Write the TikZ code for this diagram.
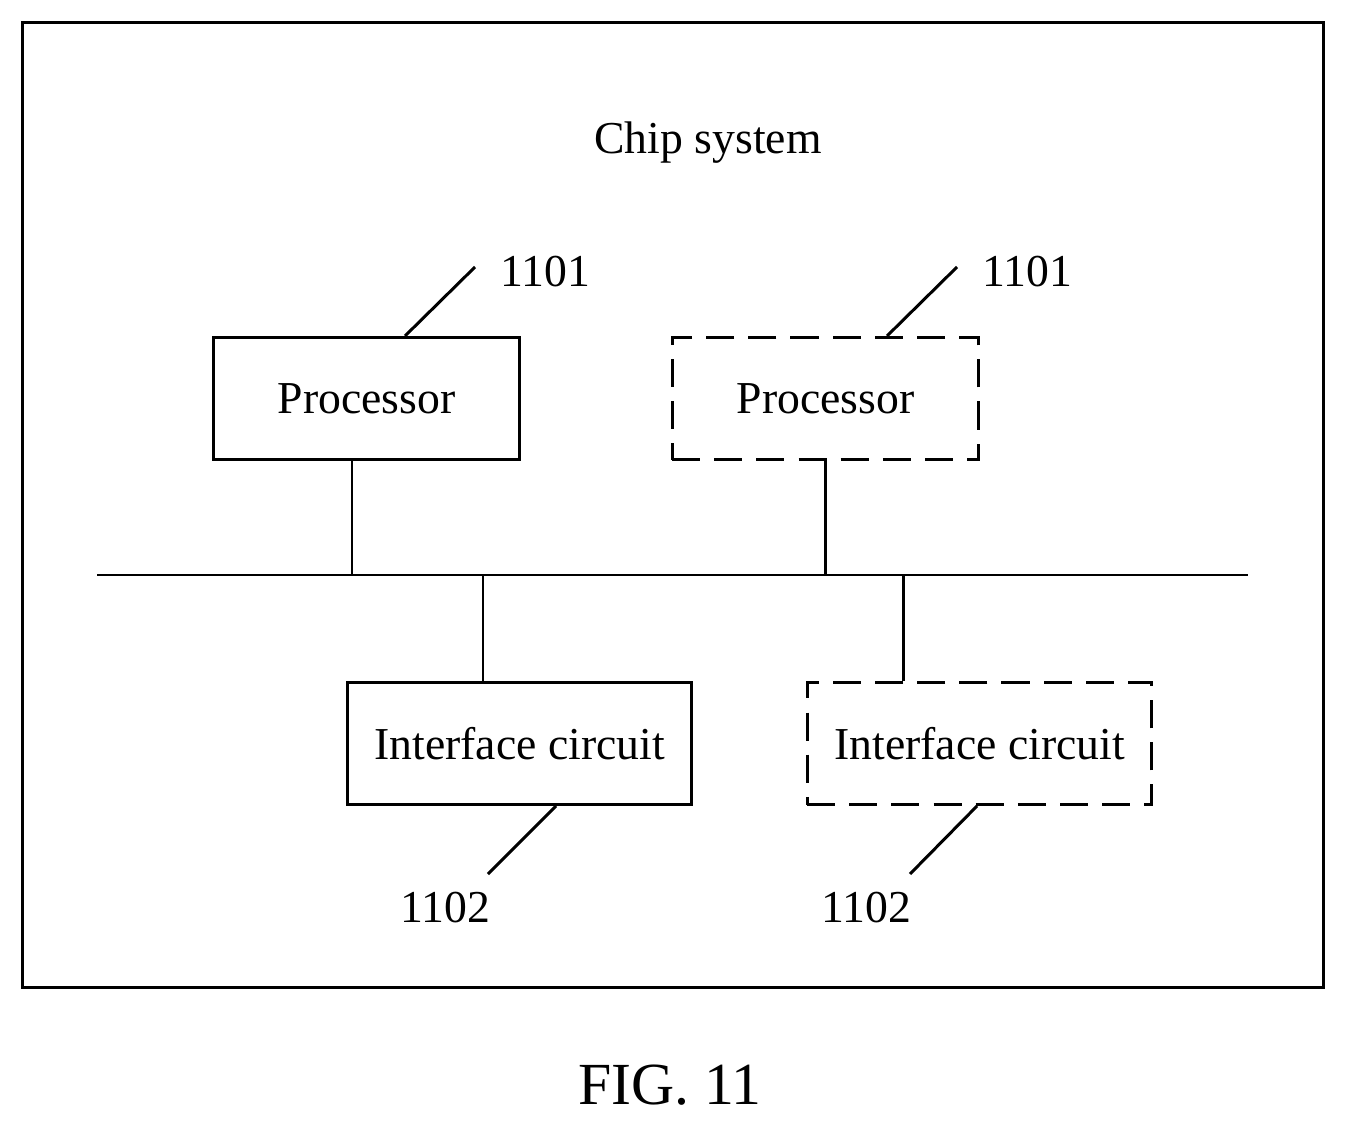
\documentclass[tikz,border=0pt]{standalone}
\usepackage{fontspec}
\setmainfont{Liberation Serif}
\usetikzlibrary{positioning}

\begin{document}
\begin{tikzpicture}[%
  x=0.02cm, y=-0.02cm,
  line width=1.7pt,
  every node/.style={font=\fontsize{26}{31}\selectfont},
  block/.style={draw, rectangle, minimum width=6.14cm, minimum height=2.46cm, inner sep=0pt},
  wide/.style={block, minimum width=6.9cm},
  optional/.style={dash pattern=on 16pt off 8pt},
  ref/.style={inner sep=0pt},
]

  \useasboundingbox (0,0) rectangle (1346,1125);

  \node[draw, rectangle, minimum width=26.04cm, minimum height=19.32cm, inner sep=0pt] (chip) at (673,505) {};
  \node (title) at (708,143) {Chip system};

  \node[block] (proc1) at (366.5,398.5) {Processor};
  \node[block, optional] (proc2) at (825.5,398.5) {Processor};
  \node[wide] (intf1) at (519.5,743.5) {Interface circuit};
  \node[wide, optional] (intf2) at (979.5,743.5) {Interface circuit};

  % bus
  \coordinate (busL) at (97,575);
  \coordinate (busR) at (1248,575);
  \draw (busL) -- (busR);

  \draw (proc1.south -| 352,0) -- (352,575);
  \draw (proc2.south) -- (proc2.south |- busL);
  \draw (intf1.north -| 483,0) -- (483,575);
  \draw (intf2.north -| 903,0) -- (903,575);

  % reference numerals
  \node[ref] (n1) at (545,272) {1101};
  \node[ref] (n2) at (1027,272) {1101};
  \node[ref] (n3) at (445,908) {1102};
  \node[ref] (n4) at (866,908) {1102};

  \draw (405,336) -- (475,267);
  \draw (887,336) -- (957,267);
  \draw (556,806) -- (488,874);
  \draw (977,806) -- (910,874);

  \node[font=\fontsize{34}{40}\selectfont] (fig) at (670,1085) {FIG. 11};

\end{tikzpicture}
\end{document}
